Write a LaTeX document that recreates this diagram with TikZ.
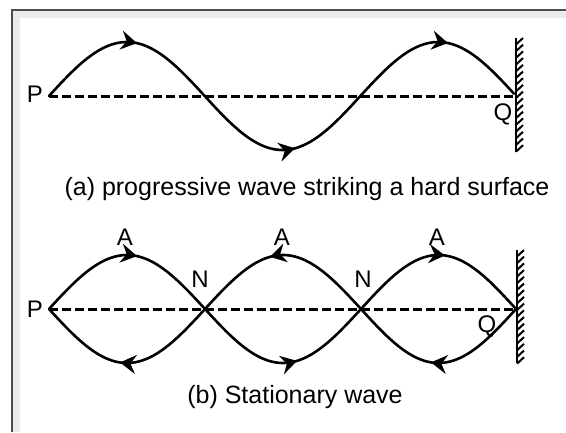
\documentclass[tikz,border=0pt]{standalone}
\usepackage{fontspec}
\setmainfont{Liberation Sans}
\usetikzlibrary{arrows.meta}
\tikzset{
  wave/.style={line width=2.6pt, line cap=round},
  tip/.style={line width=2.6pt, -{Stealth[length=16pt,width=19pt,inset=5.5pt]}},
  axisline/.style={line width=3pt, dash pattern=on 8.5pt off 4.5pt},
  lbl/.style={font=\fontsize{24}{27}\selectfont, inner sep=0pt},
  captext/.style={font=\fontsize{25}{28}\selectfont, inner sep=0pt, anchor=base},
  wallline/.style={line width=1.6pt},
  hatchline/.style={line width=2pt},
}
\begin{document}
\begin{tikzpicture}[x=1pt,y=-1pt]
\useasboundingbox (0,0) rectangle (566,432);
% frame
\fill[black!8] (12,10) rectangle (566,18);
\fill[black!8] (12,10) rectangle (20,432);
\draw[black!70, line width=1.6pt] (12,432) -- (12,10) -- (566,10);

% ---------- (a) progressive wave ----------
\coordinate (Pa) at (49,96);
\coordinate (Qa) at (516,96);
\draw[axisline] (Pa) -- (Qa);
\draw[wave] plot[domain=49:514, samples=150, smooth] (\x, {96 - 54*sin((\x-49)/155.7*180)});
\draw[tip] (134,{96-54*sin((134-49)/155.7*180)}) -- (137,{96-54*sin((137-49)/155.7*180)});
\draw[tip] (292,{96-54*sin((292-49)/155.7*180)}) -- (295,{96-54*sin((295-49)/155.7*180)});
\draw[tip] (445,{96-54*sin((445-49)/155.7*180)}) -- (448,{96-54*sin((448-49)/155.7*180)});
\node[lbl, anchor=base east] (lPa) at (43,102) {P};
\node[lbl, anchor=base] (lQa) at (503,120) {Q};
\draw[wallline] (516,38) -- (516,152);
\foreach \i in {0,...,16} \draw[hatchline] (516,{38+6.7*\i+6.5}) -- (523,{38+6.7*\i});
\node[captext] (capa) at (307,195) {(a) progressive wave striking a hard surface};

% ---------- (b) stationary wave ----------
\coordinate (Pb) at (49,309);
\coordinate (Qb) at (516,309);
\draw[axisline] (Pb) -- (Qb);
% loop 1
\draw[wave] plot[domain=49:205, samples=60, smooth] (\x, {309 - 54*sin((\x-49)/156*180)});
\draw[wave] plot[domain=49:205, samples=60, smooth] (\x, {309 + 54*sin((\x-49)/156*180)});
\draw[tip] (134,{309-54*sin((134-49)/156*180)}) -- (137,{309-54*sin((137-49)/156*180)});
\draw[tip] (123,{309+54*sin((123-49)/156*180)}) -- (120,{309+54*sin((120-49)/156*180)});
% loop 2
\draw[wave] plot[domain=205:361, samples=60, smooth] (\x, {309 - 54*sin((\x-205)/156*180)});
\draw[wave] plot[domain=205:361, samples=60, smooth] (\x, {309 + 54*sin((\x-205)/156*180)});
\draw[tip] (273,{309-54*sin((273-205)/156*180)}) -- (270,{309-54*sin((270-205)/156*180)});
\draw[tip] (294,{309+54*sin((294-205)/156*180)}) -- (297,{309+54*sin((297-205)/156*180)});
% loop 3
\draw[wave] plot[domain=361:516, samples=60, smooth] (\x, {309 - 54*sin((\x-361)/155*180)});
\draw[wave] plot[domain=361:516, samples=60, smooth] (\x, {309 + 54*sin((\x-361)/155*180)});
\draw[tip] (442,{309-54*sin((442-361)/155*180)}) -- (445,{309-54*sin((445-361)/155*180)});
\draw[tip] (434,{309+54*sin((434-361)/155*180)}) -- (431,{309+54*sin((431-361)/155*180)});
\node[lbl, anchor=base east] (lPb) at (43,317) {P};
\node[lbl, anchor=base] (lQb) at (487,332) {Q};
\node[lbl, anchor=base] (A1) at (125,245) {A};
\node[lbl, anchor=base] (A2) at (282,245) {A};
\node[lbl, anchor=base] (A3) at (437,245) {A};
\node[lbl, anchor=base] (N1) at (200,287) {N};
\node[lbl, anchor=base] (N2) at (363,287) {N};
\draw[wallline] (517,250) -- (517,363);
\foreach \i in {0,...,16} \draw[hatchline] (517,{250+6.7*\i+6.5}) -- (524,{250+6.7*\i});
\node[captext] (capb) at (295,403) {(b) Stationary wave};
\end{tikzpicture}
\end{document}
